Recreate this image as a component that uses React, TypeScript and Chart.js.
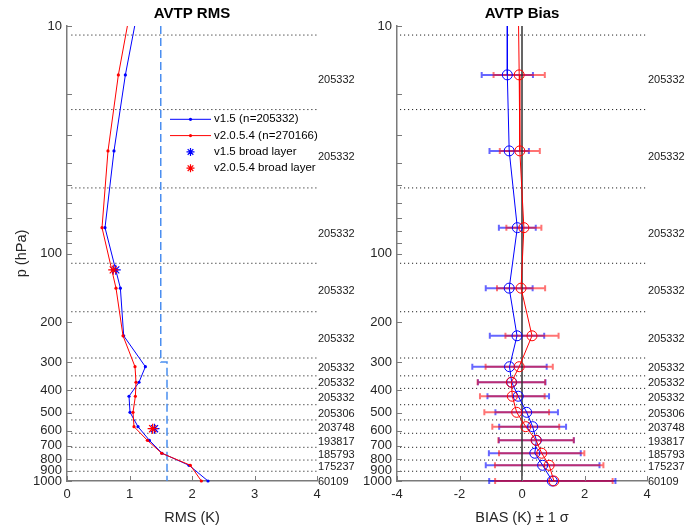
import React, { useEffect, useRef } from 'react';
import { Chart, registerables } from 'chart.js';

Chart.register(...registerables);

const SANS = '"Liberation Sans", Arial, Helvetica, sans-serif';
const MONO = '"Liberation Mono", "Courier New", monospace';
const AXIS_COLOR = '#7a7a7a';
const TICK_COLOR = '#262626';
const BLUE = '#0000ff';
const RED = '#ff0000';

// Layer centre pressures (hPa)
const levelsP = [16.4, 35.4, 77.0, 142, 230, 314.5, 368, 424, 499, 577, 662.5, 755, 853, 1000];
const topP = 10;
// Layer boundaries (dotted lines)
const boundariesP = [10.96, 23.3, 51.5, 110.4, 180.3, 288, 345, 391.5, 462, 539, 617, 711, 809, 906];
// Sample-count labels and the pressures they sit at
const countLabelP = [17.1, 37.4, 81, 145, 234, 316.5, 368, 427, 500, 578, 664, 760, 857, 1000];
const countLabels = ['205332', '205332', '205332', '205332', '205332', '205332', '205332', '205332', '205306', '203748', '193817', '185793', '175237', '60109'];

// RMS (K)
const rmsV15 = [0.934, 0.752, 0.608, 0.854, 0.907, 1.254, 1.152, 0.992, 1.008, 1.136, 1.318, 1.52, 1.952, 2.256];
const rmsV15Top = 1.083;
const rmsV2054 = [0.822, 0.656, 0.56, 0.784, 0.896, 1.088, 1.104, 1.094, 1.056, 1.072, 1.286, 1.515, 1.974, 2.15];
const rmsV2054Top = 0.966;

// Broad layer RMS
const broadP = [118, 589];
const broadV15 = [0.78, 1.4];
const broadV2054 = [0.74, 1.37];

// Requirement threshold (dashed)
const thresholdX = [1.5, 1.5, 1.6, 1.6];
const thresholdP = [10, 300, 300, 1000];

// Bias (K) and 1-sigma
const biasV15 = [-0.47, -0.41, -0.15, -0.41, -0.16, -0.4, -0.33, -0.12, 0.15, 0.34, 0.46, 0.41, 0.66, 0.97];
const sdV15 = [0.82, 0.63, 0.59, 0.75, 0.87, 1.19, 1.08, 0.985, 1.0, 1.07, 1.2, 1.47, 1.82, 2.02];
const biasV15Top = -0.47;
const biasV2054 = [-0.09, -0.07, 0.06, -0.03, 0.32, -0.09, -0.34, -0.31, -0.17, 0.12, 0.45, 0.63, 0.87, 1.02];
const sdV2054 = [0.82, 0.64, 0.56, 0.77, 0.85, 1.075, 1.08, 1.035, 1.035, 1.07, 1.205, 1.365, 1.735, 1.88];
const biasV2054Top = -0.11;

const yTickValues = [10, 20, 30, 40, 50, 60, 70, 80, 90, 100, 200, 300, 400, 500, 600, 700, 800, 900, 1000];
const yTickLabels = [10, 100, 200, 300, 400, 500, 600, 700, 800, 900, 1000];
const rmsXTicks = [0, 1, 2, 3, 4];
const biasXTicks = [-4, -2, 0, 2, 4];
const rmsDotStart = 0.07;
const biasDotStart = -3.9;

const legendItems = [
  { kind: 'line', color: BLUE, parts: [['v1.5 (', 'S'], ['n', 'M'], ['=205332)', 'S']] },
  { kind: 'line', color: RED, parts: [['v2.0.5.4 (', 'S'], ['n', 'M'], ['=270166)', 'S']] },
  { kind: 'star', color: BLUE, parts: [['v1.5 broad layer', 'S']] },
  { kind: 'star', color: RED, parts: [['v2.0.5.4 broad layer', 'S']] },
];

function drawStar(ctx: CanvasRenderingContext2D, cx: number, cy: number, r: number, color: string) {
  ctx.save();
  ctx.strokeStyle = color;
  ctx.lineWidth = 1.2;
  ctx.beginPath();
  for (let k = 0; k < 4; k++) {
    const a = (k * Math.PI) / 4;
    ctx.moveTo(cx - r * Math.cos(a), cy - r * Math.sin(a));
    ctx.lineTo(cx + r * Math.cos(a), cy + r * Math.sin(a));
  }
  ctx.stroke();
  ctx.restore();
}

const extrasPlugin = {
  id: 'extras',
  beforeDatasetsDraw(chart: any, _args: any, opts: any) {
    if (!opts || !opts.errorBars) return;
    const { ctx, scales } = chart;
    const x = scales.x;
    const y = scales.y;
    const series = [
      { b: biasV15, s: sdV15, c: 'rgba(0,0,255,0.6)' },
      { b: biasV2054, s: sdV2054, c: 'rgba(255,0,0,0.55)' },
    ];
    ctx.save();
    ctx.lineWidth = 2;
    for (const ser of series) {
      ctx.strokeStyle = ser.c;
      for (let i = 0; i < levelsP.length; i++) {
        const py = y.getPixelForValue(levelsP[i]);
        const x1 = x.getPixelForValue(ser.b[i] - ser.s[i]);
        const x2 = x.getPixelForValue(ser.b[i] + ser.s[i]);
        ctx.beginPath();
        ctx.moveTo(x1, py);
        ctx.lineTo(x2, py);
        ctx.moveTo(x1, py - 3);
        ctx.lineTo(x1, py + 3);
        ctx.moveTo(x2, py - 3);
        ctx.lineTo(x2, py + 3);
        ctx.stroke();
      }
    }
    ctx.restore();
  },
  afterDraw(chart: any, _args: any, opts: any) {
    const { ctx, chartArea, scales } = chart;
    const x = scales.x;
    const y = scales.y;
    ctx.save();
    // inward tick marks
    ctx.strokeStyle = AXIS_COLOR;
    ctx.lineWidth = 1;
    ctx.beginPath();
    for (const t of y.ticks) {
      const py = Math.round(y.getPixelForValue(t.value)) + 0.5;
      ctx.moveTo(chartArea.left, py);
      ctx.lineTo(chartArea.left + 5, py);
    }
    for (const t of x.ticks) {
      const px = Math.round(x.getPixelForValue(t.value)) + 0.5;
      ctx.moveTo(px, chartArea.bottom);
      ctx.lineTo(px, chartArea.bottom - 5);
    }
    ctx.stroke();
    // count labels
    if (opts && opts.counts) {
      ctx.fillStyle = '#1a1a1a';
      ctx.font = `11px ${SANS}`;
      ctx.textAlign = 'left';
      ctx.textBaseline = 'middle';
      countLabels.forEach((lab, i) => {
        ctx.fillText(lab, chartArea.right + 1, y.getPixelForValue(countLabelP[i]) + 1);
      });
    }
    // legend
    if (opts && opts.legend) {
      const lx0 = chartArea.left + 103;
      const lx1 = chartArea.left + 144;
      const mx = chartArea.left + 123.5;
      const tx = chartArea.left + 147;
      legendItems.forEach((item, i) => {
        const ly = chartArea.top + 93.3 + i * 16.3;
        if (item.kind === 'line') {
          ctx.strokeStyle = item.color;
          ctx.lineWidth = 1;
          ctx.beginPath();
          ctx.moveTo(lx0, ly);
          ctx.lineTo(lx1, ly);
          ctx.stroke();
          ctx.fillStyle = item.color;
          ctx.beginPath();
          ctx.arc(mx, ly, 1.6, 0, Math.PI * 2);
          ctx.fill();
        } else {
          drawStar(ctx, mx, ly, 4, item.color);
        }
        ctx.fillStyle = '#000';
        ctx.textAlign = 'left';
        ctx.textBaseline = 'middle';
        let cx = tx;
        for (const [text, f] of item.parts) {
          ctx.font = f === 'M' ? `11.5px ${MONO}` : `11.5px ${SANS}`;
          ctx.fillText(text, cx, ly);
          cx += ctx.measureText(text).width;
        }
      });
    }
    ctx.restore();
  },
};

const makeY = (width: number, title?: string) => ({
  type: 'logarithmic',
  reverse: true,
  min: 10,
  max: 1000,
  afterBuildTicks: (s: any) => {
    s.ticks = yTickValues.map((v) => ({ value: v }));
  },
  afterFit: (s: any) => {
    s.width = width;
  },
  grid: { display: false, drawTicks: false },
  border: { display: true, color: AXIS_COLOR, width: 1.5 },
  ticks: {
    autoSkip: false,
    maxRotation: 0,
    padding: 5,
    color: TICK_COLOR,
    font: { family: SANS, size: 13 },
    callback: (v: any) => (yTickLabels.includes(Number(v)) ? String(v) : ''),
  },
  title: title
    ? { display: true, text: title, color: TICK_COLOR, font: { family: SANS, size: 14.5 }, padding: { top: 12.8, bottom: 0 } }
    : { display: false },
});

const makeX = (min: number, max: number, ticks: number[], title: string) => ({
  type: 'linear',
  min,
  max,
  afterBuildTicks: (s: any) => {
    s.ticks = ticks.map((v) => ({ value: v }));
  },
  afterFit: (s: any) => {
    s.height = 48;
  },
  grid: { display: false, drawTicks: false },
  border: { display: true, color: AXIS_COLOR, width: 1.5 },
  ticks: {
    autoSkip: false,
    maxRotation: 0,
    padding: 5.2,
    color: TICK_COLOR,
    font: { family: SANS, size: 13 },
    callback: (v: any) => String(v),
  },
  title: { display: true, text: title, color: TICK_COLOR, font: { family: SANS, size: 14.5 }, padding: { top: 0, bottom: 2.3 } },
});

const makeTitle = (text: string) => ({
  display: true,
  text,
  fullSize: false,
  color: '#000',
  font: { family: SANS, size: 15, weight: 'bold' },
  padding: { top: 5, bottom: 3 },
});

const dottedSets = (x0: number, x1: number) =>
  boundariesP.map((p) => ({
    data: [
      { x: x0, y: p },
      { x: x1, y: p },
    ],
    showLine: true,
    borderColor: '#000',
    borderWidth: 1,
    borderDash: [1, 3],
    pointRadius: 0,
    order: 10,
  }));

const withTop = (topV: number, vals: number[]) => [
  { x: topV, y: topP },
  ...vals.map((v, i) => ({ x: v, y: levelsP[i] })),
];
const radii = (r: number) => [0, ...levelsP.map(() => r)];

export default function App() {
  const leftRef = useRef<HTMLCanvasElement>(null);
  const rightRef = useRef<HTMLCanvasElement>(null);

  useEffect(() => {
    const left = new Chart(leftRef.current as HTMLCanvasElement, {
      type: 'scatter',
      data: {
        datasets: [
          {
            data: broadP.map((p, i) => ({ x: broadV2054[i], y: p })),
            pointStyle: 'star',
            pointRadius: 5,
            pointBorderWidth: 1.2,
            borderColor: RED,
            pointBorderColor: RED,
            showLine: false,
            clip: false,
            order: 1,
          },
          {
            data: broadP.map((p, i) => ({ x: broadV15[i], y: p })),
            pointStyle: 'star',
            pointRadius: 5,
            pointBorderWidth: 1.2,
            borderColor: BLUE,
            pointBorderColor: BLUE,
            showLine: false,
            clip: false,
            order: 2,
          },
          {
            data: withTop(rmsV2054Top, rmsV2054),
            showLine: true,
            borderColor: RED,
            borderWidth: 1,
            pointRadius: radii(1.6),
            pointBackgroundColor: RED,
            pointBorderColor: RED,
            pointBorderWidth: 0,
            clip: false,
            order: 4,
          },
          {
            data: withTop(rmsV15Top, rmsV15),
            showLine: true,
            borderColor: BLUE,
            borderWidth: 1,
            pointRadius: radii(1.6),
            pointBackgroundColor: BLUE,
            pointBorderColor: BLUE,
            pointBorderWidth: 0,
            clip: false,
            order: 5,
          },
          {
            data: thresholdX.map((v, i) => ({ x: v, y: thresholdP[i] })),
            showLine: true,
            borderColor: '#4a8ef0',
            borderWidth: 1.5,
            borderDash: [8, 4],
            pointRadius: 0,
            order: 8,
          },
          ...dottedSets(rmsDotStart, 4),
        ] as any,
      },
      options: {
        responsive: false,
        animation: false,
        events: [],
        layout: { padding: { left: 0, right: 43, top: 0, bottom: 0 } },
        scales: {
          x: makeX(0, 4, rmsXTicks, 'RMS (K)') as any,
          y: makeY(67, 'p (hPa)') as any,
        },
        plugins: {
          legend: { display: false },
          tooltip: { enabled: false },
          title: makeTitle('AVTP RMS') as any,
          extras: { counts: true, legend: true },
        } as any,
      },
      plugins: [extrasPlugin as any],
    });

    const right = new Chart(rightRef.current as HTMLCanvasElement, {
      type: 'scatter',
      data: {
        datasets: [
          {
            data: withTop(biasV2054Top, biasV2054),
            showLine: true,
            borderColor: RED,
            borderWidth: 1,
            pointStyle: 'circle',
            pointRadius: radii(5),
            pointBackgroundColor: 'rgba(0,0,0,0)',
            pointBorderColor: RED,
            pointBorderWidth: 1,
            clip: false,
            order: 4,
          },
          {
            data: withTop(biasV15Top, biasV15),
            showLine: true,
            borderColor: BLUE,
            borderWidth: 1,
            pointStyle: 'circle',
            pointRadius: radii(5),
            pointBackgroundColor: 'rgba(0,0,0,0)',
            pointBorderColor: BLUE,
            pointBorderWidth: 1,
            clip: false,
            order: 5,
          },
          {
            data: [
              { x: 0, y: 10 },
              { x: 0, y: 1000 },
            ],
            showLine: true,
            borderColor: '#333',
            borderWidth: 1.5,
            pointRadius: 0,
            order: 9,
          },
          ...dottedSets(biasDotStart, 4),
        ] as any,
      },
      options: {
        responsive: false,
        animation: false,
        events: [],
        layout: { padding: { left: 0, right: 52, top: 0, bottom: 0 } },
        scales: {
          x: makeX(-4, 4, biasXTicks, 'BIAS (K) \u00B1 1 \u03C3') as any,
          y: makeY(47) as any,
        },
        plugins: {
          legend: { display: false },
          tooltip: { enabled: false },
          title: makeTitle('AVTP Bias') as any,
          extras: { counts: true, errorBars: true },
        } as any,
      },
      plugins: [extrasPlugin as any],
    });

    return () => {
      left.destroy();
      right.destroy();
    };
  }, []);

  return (
    <div style={{ position: 'absolute', left: 0, top: 0, width: 699, height: 529, background: '#fff' }}>
      <canvas
        ref={leftRef}
        width={360}
        height={529}
        style={{ position: 'absolute', left: 0, top: 0, width: 360, height: 529 }}
      />
      <canvas
        ref={rightRef}
        width={349}
        height={529}
        style={{ position: 'absolute', left: 350, top: 0, width: 349, height: 529 }}
      />
    </div>
  );
}
